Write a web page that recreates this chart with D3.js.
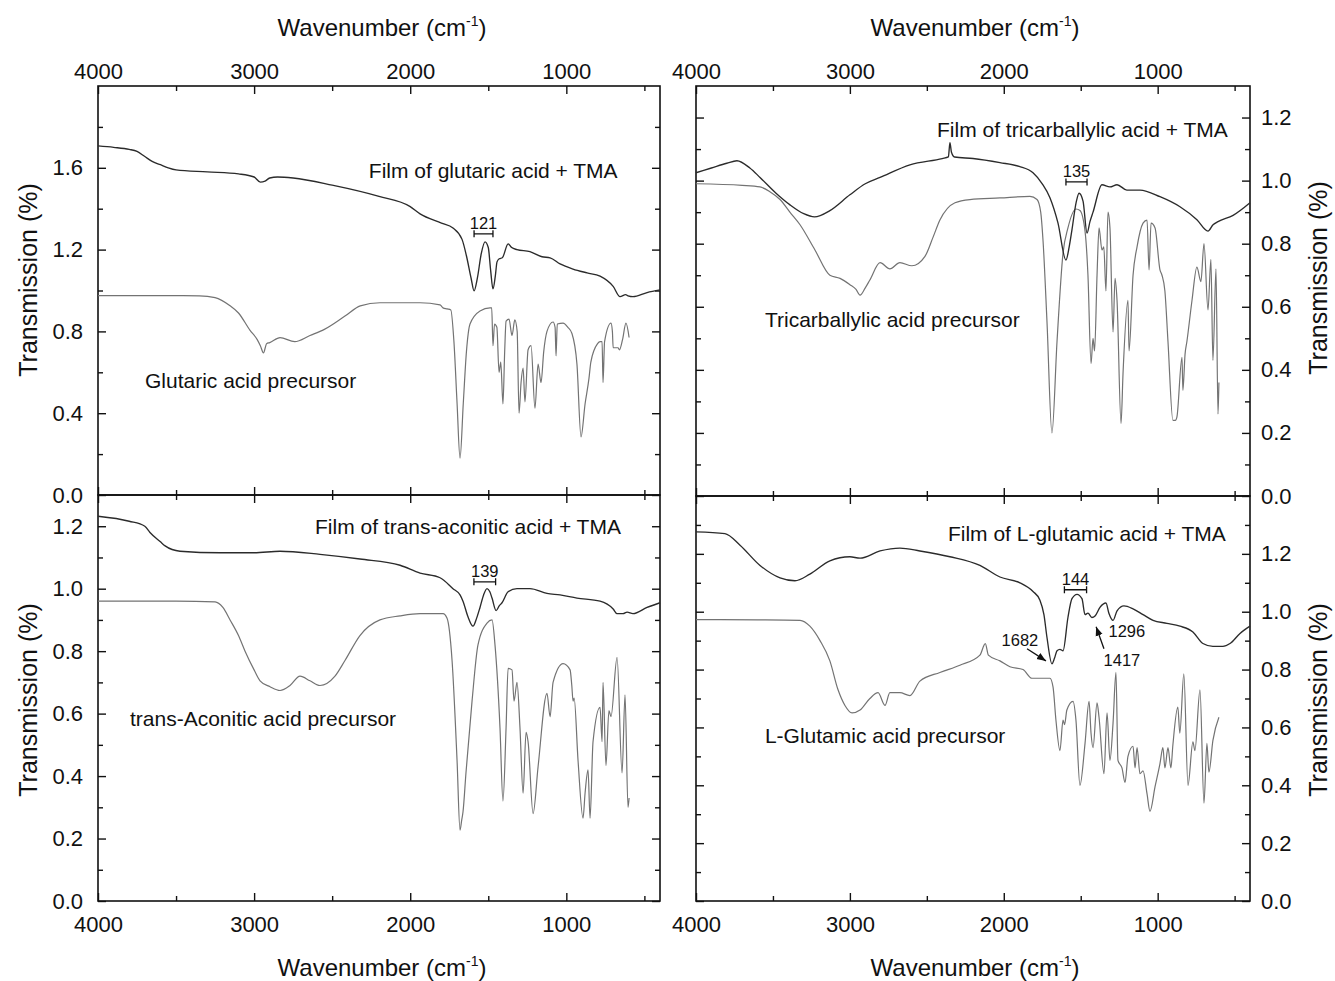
<!DOCTYPE html>
<html>
<head>
<meta charset="utf-8">
<script src="https://cdnjs.cloudflare.com/ajax/libs/d3/7.8.5/d3.min.js"></script>
<style>
body { margin: 0; background: #fff; }
svg text { font-family: "Liberation Sans", Arial, Helvetica, sans-serif; fill: #111; }
</style>
</head>
<body>
<div id="chart"></div>
<script>
// [wavenumber cm-1, transmission]
var glutaricFilm = [[4000,1.707],[3900,1.70],[3800,1.69],[3750,1.68],[3700,1.655],[3650,1.63],[3600,1.615],[3550,1.60],[3500,1.59],[3300,1.58],[3100,1.57],[3000,1.555],[2960,1.53],[2930,1.535],[2900,1.55],[2850,1.555],[2750,1.55],[2500,1.515],[2200,1.46],[2000,1.41],[1937,1.375],[1800,1.33],[1726,1.306],[1668,1.25],[1640,1.17],[1610,1.06],[1591,0.998],[1570,1.06],[1545,1.18],[1521,1.238],[1500,1.21],[1485,1.10],[1470,1.008],[1455,1.07],[1444,1.14],[1430,1.155],[1410,1.16],[1373,1.228],[1350,1.21],[1316,1.20],[1233,1.19],[1156,1.165],[1104,1.16],[1040,1.13],[957,1.105],[867,1.086],[784,1.07],[700,1.02],[656,0.97],[620,0.98],[605,0.974],[573,0.97],[483,0.99],[400,1.003]];
var glutaricPrecursor = [[4000,0.975],[3600,0.975],[3350,0.974],[3250,0.965],[3154,0.925],[3100,0.89],[3026,0.805],[2980,0.76],[2960,0.73],[2940,0.695],[2920,0.74],[2900,0.745],[2834,0.77],[2740,0.75],[2642,0.78],[2550,0.81],[2418,0.875],[2320,0.925],[2194,0.94],[1937,0.94],[1809,0.93],[1790,0.915],[1764,0.91],[1740,0.905],[1720,0.75],[1700,0.45],[1681,0.18],[1660,0.45],[1640,0.70],[1617,0.836],[1553,0.90],[1489,0.915],[1478,0.915],[1470,0.73],[1460,0.836],[1445,0.82],[1431,0.60],[1420,0.65],[1406,0.445],[1395,0.70],[1386,0.85],[1367,0.86],[1348,0.78],[1330,0.856],[1315,0.80],[1303,0.40],[1290,0.55],[1277,0.62],[1265,0.455],[1245,0.71],[1226,0.73],[1201,0.425],[1181,0.64],[1162,0.55],[1145,0.70],[1124,0.80],[1085,0.846],[1072,0.82],[1066,0.68],[1058,0.836],[1021,0.84],[990,0.82],[964,0.79],[932,0.64],[906,0.284],[880,0.445],[855,0.57],[843,0.65],[800,0.74],[784,0.75],[771,0.75],[765,0.55],[755,0.75],[714,0.84],[705,0.80],[700,0.72],[685,0.72],[669,0.72],[660,0.71],[640,0.76],[618,0.84],[598,0.77]];

var tricarbFilm = [[4000,1.025],[3900,1.04],[3800,1.055],[3734,1.063],[3650,1.04],[3584,1.01],[3480,0.96],[3389,0.923],[3300,0.895],[3230,0.885],[3130,0.905],[3000,0.955],[2900,0.99],[2804,1.01],[2610,1.05],[2400,1.07],[2360,1.075],[2350,1.12],[2340,1.09],[2320,1.075],[2200,1.07],[2025,1.057],[1900,1.045],[1810,1.025],[1750,0.99],[1700,0.946],[1648,0.866],[1596,0.748],[1575,0.79],[1557,0.844],[1530,0.93],[1511,0.96],[1485,0.935],[1459,0.834],[1440,0.87],[1420,0.90],[1362,0.987],[1310,0.98],[1264,0.987],[1200,0.97],[1115,0.97],[985,0.949],[855,0.917],[745,0.876],[673,0.84],[640,0.86],[608,0.87],[510,0.89],[400,0.93]];
var tricarbPrecursor = [[4000,0.99],[3700,0.985],[3584,0.98],[3520,0.965],[3454,0.94],[3390,0.90],[3324,0.86],[3227,0.78],[3130,0.70],[3064,0.69],[3000,0.67],[2960,0.655],[2934,0.637],[2900,0.66],[2870,0.685],[2804,0.74],[2740,0.72],[2675,0.74],[2597,0.73],[2512,0.76],[2460,0.82],[2415,0.875],[2317,0.93],[2220,0.94],[2025,0.945],[1830,0.95],[1784,0.94],[1760,0.90],[1745,0.81],[1719,0.55],[1687,0.20],[1654,0.49],[1615,0.77],[1583,0.85],[1531,0.91],[1505,0.905],[1472,0.84],[1453,0.70],[1433,0.42],[1420,0.50],[1410,0.46],[1394,0.70],[1381,0.85],[1362,0.78],[1350,0.79],[1336,0.65],[1323,0.90],[1310,0.85],[1290,0.52],[1277,0.69],[1264,0.62],[1238,0.23],[1225,0.39],[1193,0.62],[1186,0.46],[1160,0.70],[1134,0.79],[1095,0.865],[1069,0.875],[1056,0.717],[1043,0.865],[1017,0.85],[985,0.717],[972,0.70],[953,0.65],[933,0.49],[901,0.24],[885,0.24],[875,0.25],[842,0.44],[836,0.335],[822,0.45],[810,0.49],[777,0.62],[745,0.726],[719,0.68],[699,0.80],[673,0.59],[654,0.75],[641,0.43],[621,0.72],[608,0.26],[602,0.36]];

var aconiticFilm = [[4000,1.232],[3800,1.216],[3700,1.20],[3667,1.18],[3600,1.15],[3570,1.137],[3475,1.12],[3218,1.115],[3000,1.115],[2834,1.12],[2578,1.11],[2322,1.095],[2065,1.075],[1937,1.05],[1809,1.035],[1726,1.0],[1681,0.98],[1662,0.96],[1630,0.91],[1598,0.88],[1575,0.905],[1553,0.94],[1530,0.98],[1508,1.0],[1490,0.99],[1476,0.97],[1450,0.93],[1430,0.945],[1412,0.955],[1373,0.99],[1316,1.0],[1233,1.0],[1124,0.985],[1040,0.98],[932,0.97],[784,0.96],[700,0.935],[675,0.92],[637,0.92],[611,0.925],[573,0.92],[483,0.94],[400,0.955]];
var aconiticPrecursor = [[4000,0.96],[3500,0.96],[3250,0.958],[3200,0.94],[3154,0.90],[3100,0.85],[3058,0.80],[3000,0.74],[2962,0.705],[2898,0.686],[2834,0.674],[2770,0.69],[2706,0.72],[2642,0.705],[2578,0.69],[2482,0.72],[2418,0.77],[2322,0.85],[2194,0.90],[2065,0.913],[1937,0.92],[1790,0.92],[1764,0.905],[1732,0.77],[1700,0.45],[1681,0.227],[1670,0.26],[1662,0.285],[1643,0.41],[1604,0.64],[1566,0.82],[1508,0.89],[1476,0.90],[1457,0.82],[1425,0.555],[1406,0.32],[1386,0.555],[1373,0.745],[1348,0.74],[1335,0.64],[1316,0.70],[1297,0.555],[1277,0.345],[1258,0.54],[1245,0.51],[1213,0.28],[1181,0.43],[1124,0.665],[1104,0.59],[1085,0.70],[1021,0.76],[976,0.74],[965,0.69],[957,0.64],[950,0.65],[925,0.45],[893,0.265],[880,0.345],[861,0.42],[848,0.265],[829,0.51],[784,0.62],[771,0.51],[765,0.70],[746,0.434],[727,0.61],[714,0.59],[675,0.78],[643,0.41],[624,0.66],[605,0.30],[598,0.33]];

var glutamicFilm = [[4000,1.276],[3812,1.27],[3714,1.23],[3584,1.16],[3454,1.117],[3357,1.107],[3260,1.13],[3130,1.176],[3000,1.19],[2934,1.185],[2804,1.21],[2675,1.22],[2545,1.21],[2350,1.19],[2155,1.16],[2025,1.12],[1895,1.10],[1810,1.07],[1765,1.04],[1739,0.99],[1719,0.91],[1687,0.82],[1670,0.84],[1654,0.865],[1635,0.87],[1615,0.865],[1583,0.98],[1557,1.045],[1524,1.06],[1492,1.045],[1472,0.99],[1453,0.995],[1427,0.98],[1407,0.985],[1375,1.015],[1336,1.03],[1317,0.995],[1290,0.97],[1264,1.003],[1219,1.02],[1160,1.01],[1095,0.99],[1030,0.97],[940,0.96],[855,0.95],[771,0.93],[706,0.89],[641,0.88],[576,0.88],[530,0.89],[465,0.925],[400,0.95]];
var glutamicPrecursor = [[4000,0.973],[3600,0.972],[3324,0.97],[3260,0.95],[3194,0.90],[3130,0.83],[3077,0.73],[3032,0.676],[2986,0.65],[2934,0.66],[2870,0.70],[2817,0.72],[2772,0.676],[2740,0.72],[2675,0.72],[2610,0.71],[2545,0.76],[2415,0.79],[2285,0.815],[2155,0.85],[2120,0.89],[2100,0.85],[2025,0.83],[1960,0.81],[1875,0.80],[1817,0.77],[1765,0.77],[1700,0.77],[1680,0.74],[1661,0.625],[1635,0.52],[1615,0.625],[1605,0.61],[1590,0.66],[1550,0.69],[1531,0.625],[1505,0.40],[1472,0.545],[1446,0.69],[1433,0.58],[1420,0.53],[1394,0.685],[1381,0.635],[1349,0.44],[1329,0.65],[1310,0.486],[1290,0.615],[1271,0.79],[1258,0.486],[1232,0.46],[1212,0.41],[1193,0.50],[1160,0.535],[1147,0.46],[1134,0.53],[1115,0.44],[1095,0.45],[1069,0.37],[1050,0.31],[1017,0.395],[985,0.475],[966,0.53],[953,0.46],[933,0.53],[914,0.46],[901,0.54],[869,0.67],[856,0.58],[830,0.785],[803,0.40],[771,0.55],[758,0.52],[725,0.73],[699,0.338],[680,0.545],[667,0.445],[641,0.555],[602,0.635]];

var xTicks = [4000, 3000, 2000, 1000];
var xMinor = [3500, 2500, 1500, 500];
var yTicksWide = [0, 0.4, 0.8, 1.2, 1.6];
var yMinorWide = [0.2, 0.6, 1.0, 1.4, 1.8];
var yTicks = [0, 0.2, 0.4, 0.6, 0.8, 1.0, 1.2];
var yMinor = [0.1, 0.3, 0.5, 0.7, 0.9, 1.1, 1.3];

var filmLabels = ["Film of glutaric acid + TMA", "Film of tricarballylic acid + TMA", "Film of trans-aconitic acid + TMA", "Film of L-glutamic acid + TMA"];
var precursorLabels = ["Glutaric acid precursor", "Tricarballylic acid precursor", "trans-Aconitic acid precursor", "L-Glutamic acid precursor"];
// splitting bars: [from, to, height, label]
var splits = [[1591, 1470, 1.277, "121"], [1596, 1459, 0.996, "135"], [1592, 1453, 1.022, "139"], [1606, 1462, 1.076, "144"]];

var W = 1335, H = 981;
var svg = d3.select("#chart").append("svg").attr("width", W).attr("height", H);

svg.append("defs").append("marker")
    .attr("id", "arr")
    .attr("viewBox", "0 0 10 10")
    .attr("refX", 10).attr("refY", 5)
    .attr("markerWidth", 9).attr("markerHeight", 9)
    .attr("markerUnits", "userSpaceOnUse")
    .attr("orient", "auto")
  .append("path")
    .attr("d", "M0,1 L10,5 L0,9 z")
    .attr("fill", "#111");

var panels = [
  {film: glutaricFilm, prec: glutaricPrecursor, left: 98, right: 660, top: 86, bottom: 495, ymax: 2.0,
   major: yTicksWide, minor: yMinorWide, side: "left", xside: "top",
   filmAt: [2265, 1.585], precAt: [3699, 0.558]},
  {film: tricarbFilm, prec: tricarbPrecursor, left: 696, right: 1250, top: 86, bottom: 496, ymax: 1.3,
   major: yTicks, minor: yMinor, side: "right", xside: "top",
   filmAt: [2434, 1.162], precAt: [3552, 0.558]},
  {film: aconiticFilm, prec: aconiticPrecursor, left: 98, right: 660, top: 495, bottom: 901, ymax: 1.3,
   major: yTicks, minor: yMinor, side: "left", xside: "bottom",
   filmAt: [2610, 1.20], precAt: [3795, 0.584]},
  {film: glutamicFilm, prec: glutamicPrecursor, left: 696, right: 1250, top: 496, bottom: 901, ymax: 1.4,
   major: yTicks, minor: yMinor, side: "right", xside: "bottom",
   filmAt: [2363, 1.269], precAt: [3552, 0.572]}
];

var blank = function() { return ""; };

function styleAxis(sel, fs) {
  sel.select(".domain").remove();
  sel.selectAll(".tick line").attr("stroke", "#111").attr("stroke-width", 1.4);
  sel.selectAll(".tick text").attr("font-size", fs).attr("font-family", null).attr("fill", "#111");
}

panels.forEach(function(p, i) {
  var w = p.right - p.left, h = p.bottom - p.top;
  var g = svg.append("g").attr("transform", "translate(" + p.left + "," + p.top + ")");
  var x = d3.scaleLinear().domain([4000, 400]).range([0, w]);
  var y = d3.scaleLinear().domain([0, p.ymax]).range([h, 0]);
  var fx = d3.format("d"), fy = d3.format(".1f");

  // x axes (ticks inside)
  g.append("g").call(d3.axisTop(x).tickValues(xTicks).tickSize(-8).tickPadding(7)
      .tickFormat(p.xside == "top" ? fx : blank)).call(styleAxis, 22);
  g.append("g").call(d3.axisTop(x).tickValues(xMinor).tickSize(-5).tickFormat(blank)).call(styleAxis, 22);
  g.append("g").attr("transform", "translate(0," + h + ")")
    .call(d3.axisBottom(x).tickValues(xTicks).tickSize(-8).tickPadding(15)
      .tickFormat(p.xside == "bottom" ? fx : blank)).call(styleAxis, 22);
  g.append("g").attr("transform", "translate(0," + h + ")")
    .call(d3.axisBottom(x).tickValues(xMinor).tickSize(-5).tickFormat(blank)).call(styleAxis, 22);

  // y axes
  var minors = p.minor.filter(function(v) { return v < p.ymax; });
  g.append("g").call(d3.axisLeft(y).tickValues(p.major).tickSize(-8).tickPadding(15)
      .tickFormat(p.side == "left" ? fy : blank)).call(styleAxis, 22);
  g.append("g").call(d3.axisLeft(y).tickValues(minors).tickSize(-5).tickFormat(blank)).call(styleAxis, 22);
  g.append("g").attr("transform", "translate(" + w + ",0)")
    .call(d3.axisRight(y).tickValues(p.major).tickSize(-8).tickPadding(11)
      .tickFormat(p.side == "right" ? fy : blank)).call(styleAxis, 22);
  g.append("g").attr("transform", "translate(" + w + ",0)")
    .call(d3.axisRight(y).tickValues(minors).tickSize(-5).tickFormat(blank)).call(styleAxis, 22);

  g.append("rect").attr("width", w).attr("height", h)
    .attr("fill", "none").attr("stroke", "#111").attr("stroke-width", 1.6);

  var line = d3.line().curve(d3.curveMonotoneX)
    .x(function(d) { return x(d[0]); }).y(function(d) { return y(d[1]); });
  var asc = function(a) { return a.slice().sort(function(m, n) { return m[0] - n[0]; }); };
  g.append("path").datum(asc(p.prec)).attr("d", line)
    .attr("fill", "none").attr("stroke", "#737373").attr("stroke-width", 1.2);
  g.append("path").datum(asc(p.film)).attr("d", line)
    .attr("fill", "none").attr("stroke", "#2b2b2b").attr("stroke-width", 1.35);

  g.append("text").attr("x", x(p.filmAt[0])).attr("y", y(p.filmAt[1])).attr("dy", "0.35em")
    .attr("font-size", 21).text(filmLabels[i]);
  g.append("text").attr("x", x(p.precAt[0])).attr("y", y(p.precAt[1])).attr("dy", "0.35em")
    .attr("font-size", 21).text(precursorLabels[i]);

  // splitting bar
  var s = splits[i];
  var by = y(s[2]);
  g.append("path")
    .attr("d", "M" + x(s[0]) + "," + by + "H" + x(s[1]) +
               "M" + x(s[0]) + "," + (by - 3.5) + "V" + (by + 3.5) +
               "M" + x(s[1]) + "," + (by - 3.5) + "V" + (by + 3.5))
    .attr("stroke", "#111").attr("stroke-width", 1.3).attr("fill", "none");
  g.append("text").attr("x", (x(s[0]) + x(s[1])) / 2).attr("y", by - 5)
    .attr("text-anchor", "middle").attr("font-size", 16.5).text(s[3]);

  if (i == 3) {
    g.append("text").attr("x", x(1895)).attr("y", y(0.903)).attr("dy", "0.35em")
      .attr("text-anchor", "middle").attr("font-size", 16.5).text("1682");
    g.append("line").attr("x1", x(1849)).attr("y1", y(0.872)).attr("x2", x(1726)).attr("y2", y(0.83))
      .attr("stroke", "#111").attr("stroke-width", 1.3).attr("marker-end", "url(#arr)");
    g.append("text").attr("x", x(1200)).attr("y", y(0.934)).attr("dy", "0.35em")
      .attr("text-anchor", "middle").attr("font-size", 16.5).text("1296");
    g.append("text").attr("x", x(1232)).attr("y", y(0.834)).attr("dy", "0.35em")
      .attr("text-anchor", "middle").attr("font-size", 16.5).text("1417");
    g.append("line").attr("x1", x(1349)).attr("y1", y(0.872)).attr("x2", x(1400)).attr("y2", y(0.948))
      .attr("stroke", "#111").attr("stroke-width", 1.3).attr("marker-end", "url(#arr)");
  }
});

// axis titles
function wavTitle(cx, yy) {
  var t = svg.append("text").attr("x", cx).attr("y", yy).attr("text-anchor", "middle").attr("font-size", 24);
  t.append("tspan").text("Wavenumber (cm");
  t.append("tspan").attr("dy", -10).attr("font-size", 14).text("-1");
  t.append("tspan").attr("dy", 10).text(")");
}
wavTitle(382, 36);
wavTitle(975, 36);
wavTitle(382, 976);
wavTitle(975, 976);

[[28, 280], [28, 700], [1318, 278], [1318, 700]].forEach(function(c) {
  svg.append("text").attr("transform", "translate(" + c[0] + "," + c[1] + ") rotate(-90)")
    .attr("dy", "0.35em").attr("text-anchor", "middle").attr("font-size", 25).text("Transmission (%)");
});
</script>
</body>
</html>
